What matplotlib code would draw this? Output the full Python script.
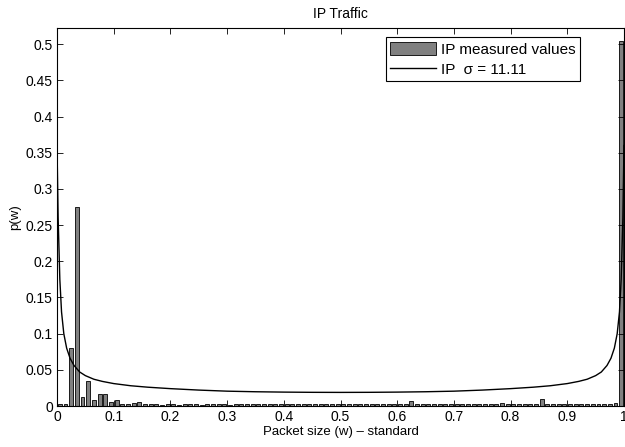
import numpy as np
import matplotlib.pyplot as plt

plt.rcParams['font.family'] = ['Liberation Sans', 'DejaVu Sans']

# histogram of measured packet sizes (100 bins, width 0.01)
bin_centers = np.arange(100) * 0.01 + 0.005
measured = [
    0.003, 0.003, 0.080, 0.275, 0.012, 0.035, 0.008, 0.016, 0.016, 0.006,
    0.008, 0.003, 0.003, 0.004, 0.005, 0.003, 0.003, 0.003, 0.002, 0.003,
    0.003, 0.002, 0.003, 0.003, 0.003, 0.002, 0.003, 0.003, 0.003, 0.003,
    0.002, 0.003, 0.003, 0.003, 0.003, 0.003, 0.003, 0.003, 0.003, 0.003,
    0.003, 0.003, 0.003, 0.003, 0.003, 0.003, 0.003, 0.003, 0.003, 0.003,
    0.003, 0.003, 0.003, 0.003, 0.003, 0.003, 0.003, 0.003, 0.003, 0.003,
    0.003, 0.003, 0.007, 0.003, 0.003, 0.003, 0.003, 0.003, 0.003, 0.003,
    0.003, 0.003, 0.003, 0.003, 0.003, 0.003, 0.003, 0.003, 0.004, 0.003,
    0.003, 0.003, 0.003, 0.003, 0.003, 0.009, 0.003, 0.003, 0.003, 0.003,
    0.003, 0.003, 0.003, 0.003, 0.003, 0.003, 0.003, 0.003, 0.004, 0.505,
]

# fitted curve
fit_x = [0.0, 0.002, 0.005, 0.008, 0.012, 0.017, 0.023, 0.03, 0.04, 0.05,
         0.065, 0.08, 0.1, 0.13, 0.16, 0.2, 0.25, 0.3, 0.35, 0.4, 0.45, 0.5,
         0.55, 0.6, 0.65, 0.7, 0.75, 0.8, 0.84, 0.87, 0.9, 0.92, 0.935, 0.95,
         0.96, 0.97, 0.977, 0.983, 0.988, 0.992, 0.995, 0.998, 1.0]
fit_y = [0.36, 0.26, 0.175, 0.13, 0.100, 0.080, 0.066, 0.056, 0.047, 0.042,
         0.037, 0.034, 0.031, 0.028, 0.026, 0.024, 0.022, 0.0205, 0.0197, 0.0192, 0.0189, 0.0188,
         0.0189, 0.0192, 0.0197, 0.0205, 0.022, 0.024, 0.026, 0.028, 0.031, 0.034, 0.037, 0.042,
         0.047, 0.056, 0.066, 0.080, 0.100, 0.13, 0.175, 0.26, 0.36]

fig = plt.figure(figsize=(6.25, 4.47), dpi=100)
ax = fig.add_axes([57 / 625, 41 / 447, 567 / 625, 378 / 447])

bars = ax.bar(bin_centers, measured, width=0.007, color='#808080', edgecolor='black',
              linewidth=0.6, label='IP measured values')
line, = ax.plot(fit_x, fit_y, color='black', linewidth=1.0, label='IP  σ = 11.11')

ax.set_xlim(0, 1)
ax.set_ylim(0, 0.5225)
ax.set_xticks(np.arange(0, 1.01, 0.1))
ax.set_xticklabels(['0', '0.1', '0.2', '0.3', '0.4', '0.5', '0.6', '0.7', '0.8', '0.9', '1'])
ax.set_yticks(np.arange(0, 0.51, 0.05))
ax.set_yticklabels(['0', '0.05', '0.1', '0.15', '0.2', '0.25', '0.3', '0.35', '0.4', '0.45', '0.5'])
ax.tick_params(direction='in', top=True, right=True, length=4, width=0.6, labelsize=10, pad=3)
for s in ax.spines.values():
    s.set_linewidth(0.8)

ax.set_title('IP Traffic', fontsize=10, pad=7)
ax.set_xlabel('Packet size (w) – standard', fontsize=9.5, labelpad=1)
ax.set_ylabel('p(w)', fontsize=9.5, labelpad=3)

leg = ax.legend([bars, line], ['IP measured values', 'IP  σ = 11.11'],
                loc='upper right', bbox_to_anchor=(0.922, 0.975), borderaxespad=0,
                fontsize=11, fancybox=False, edgecolor='black', framealpha=1,
                handlelength=3.0, handleheight=0.9, borderpad=0.3, labelspacing=0.35,
                handletextpad=0.3)
leg.get_frame().set_linewidth(0.8)

fig.savefig('out.png', dpi=100)
